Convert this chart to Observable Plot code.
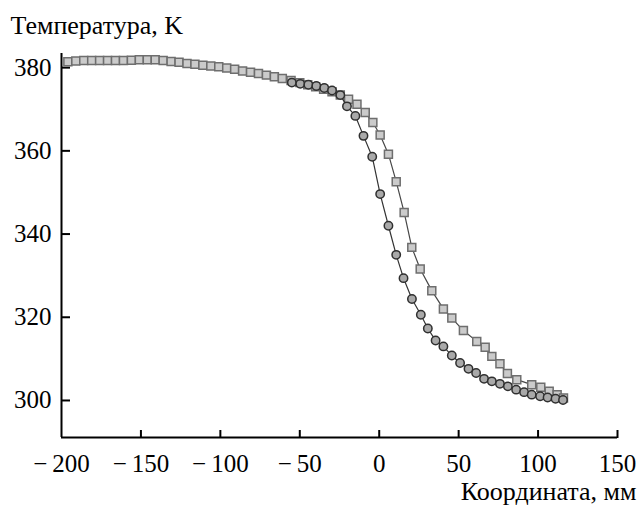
<!DOCTYPE html>
<html>
<head>
<meta charset="utf-8">
<script src="https://cdn.jsdelivr.net/npm/d3@7"></script>
<script src="https://cdn.jsdelivr.net/npm/@observablehq/plot@0.6"></script>
<style>
  html, body { margin: 0; padding: 0; background: #ffffff; }
</style>
</head>
<body>
<div id="chart"></div>
<script>
// Squares series (light gray markers)
const squareX = [-196, -191, -186, -181, -176, -171, -166, -161, -156, -151, -146, -141, -136, -131, -126, -121, -116, -111, -106, -101, -96, -91, -86, -81, -76, -71, -66, -61, -55.5, -50, -45, -40, -35, -29.7, -24.5, -19.3, -14, -8.8, -4, 0.6, 5.8, 10.7, 15.7, 20.5, 25.8, 33.1, 40.4, 45.7, 53, 61.4, 66.7, 70.9, 76, 80.7, 86.6, 96, 101.7, 107, 112, 116];
const squareT = [381.4, 381.6, 381.7, 381.7, 381.7, 381.7, 381.7, 381.7, 381.8, 381.9, 381.9, 381.9, 381.7, 381.5, 381.3, 381.0, 380.8, 380.6, 380.4, 380.2, 379.9, 379.6, 379.2, 378.9, 378.6, 378.2, 377.8, 377.4, 376.9, 376.4, 375.9, 375.4, 374.8, 374.2, 373.4, 372.4, 371.2, 369.2, 366.8, 363.8, 359.2, 352.6, 345.2, 336.8, 331.6, 326.4, 322.0, 319.8, 316.8, 314.2, 312.8, 310.6, 308.8, 306.5, 305.0, 303.8, 303.2, 302.2, 301.4, 300.6];

// Circles series (darker gray markers)
const circleX = [-55, -49.7, -44.6, -39.6, -34.6, -29.7, -24.5, -20.3, -15, -9.9, -4.4, 0.6, 5.8, 10.7, 15.3, 20.6, 26.2, 30.6, 35.5, 40.4, 45.7, 50.9, 56.2, 61, 66, 70.9, 76, 81, 86.2, 91.2, 96, 101.3, 106, 111, 115.7];
const circleT = [376.4, 376.1, 375.9, 375.6, 375.1, 374.5, 373.4, 370.7, 368.4, 363.6, 358.6, 349.6, 342.0, 335.0, 329.4, 324.4, 320.6, 317.3, 314.4, 313.0, 310.8, 309.0, 307.6, 306.6, 305.2, 304.6, 304.0, 303.4, 302.6, 302.0, 301.4, 301.0, 300.7, 300.4, 300.1];

const xTicks = [-200, -150, -100, -50, 0, 50, 100, 150];
const yTicks = [300, 320, 340, 360, 380];
const xDomain = [-200, 150];
const yDomain = [291.1, 383.4];
const yTitle = "Температура, K";
const xTitle = "Координата, мм";

const squares = squareX.map((x, i) => ({x, t: squareT[i]}));
const circles = circleX.map((x, i) => ({x, t: circleT[i]}));

const W = 643, H = 508, ML = 61, MR = 26, MT = 53, MB = 71;
const TICKPX = 8;
const FRAME_W = W - ML - MR, FRAME_H = H - MT - MB;

const fmt = d => d < 0 ? "\u2212\u2009" + Math.abs(d) : String(d);
const SERIF = "'Liberation Serif', 'Times New Roman', Tinos, 'DejaVu Serif', serif";

const chart = Plot.plot({
  width: W,
  height: H,
  marginLeft: ML,
  marginRight: MR,
  marginTop: MT,
  marginBottom: MB,
  style: {fontFamily: SERIF, fontSize: "25px", background: "#ffffff", color: "#000000"},
  x: {type: "linear", domain: xDomain},
  y: {type: "linear", domain: yDomain},
  marks: [
    // tick labels
    Plot.axisX({ticks: xTicks, tickSize: 0, tickPadding: 17, tickFormat: fmt, fontSize: 25, fontFamily: SERIF, label: null}),
    Plot.axisY({ticks: yTicks, tickSize: 0, tickPadding: 10, fontSize: 25, fontFamily: SERIF, label: null}),
    // inward ticks: top/right anchored axes shifted onto the bottom/left axis lines
    Plot.axisX({anchor: "top", ticks: xTicks.slice(1), tickSize: TICKPX, tickFormat: () => "", dy: FRAME_H, stroke: "#000000", strokeWidth: 2, label: null}),
    Plot.axisY({anchor: "right", ticks: yTicks, tickSize: TICKPX, tickFormat: () => "", dx: -FRAME_W, stroke: "#000000", strokeWidth: 2, label: null}),
    // axis lines
    Plot.ruleX([xDomain[0]], {stroke: "#000000", strokeWidth: 2}),
    Plot.ruleY([yDomain[0]], {stroke: "#000000", strokeWidth: 2}),
    // series
    Plot.line(squares, {x: "x", y: "t", stroke: "#474747", strokeWidth: 1.2}),
    Plot.dot(squares, {x: "x", y: "t", symbol: "square", r: 4.5, fill: "#cbcbcb", stroke: "#6e6e6e", strokeWidth: 1.5}),
    Plot.line(circles, {x: "x", y: "t", stroke: "#333333", strokeWidth: 1.2}),
    Plot.dot(circles, {x: "x", y: "t", r: 4.2, fill: "#a9a9a9", stroke: "#2f2f2f", strokeWidth: 1.5}),
    // titles
    Plot.text([yTitle], {frameAnchor: "top-left", dx: -51, dy: -28, textAnchor: "start", lineAnchor: "middle", fontSize: 26, fontFamily: SERIF}),
    Plot.text([xTitle], {frameAnchor: "bottom-right", dx: 19, dy: 54, textAnchor: "end", lineAnchor: "middle", fontSize: 26, fontFamily: SERIF})
  ]
});
document.getElementById("chart").appendChild(chart);
</script>
</body>
</html>
